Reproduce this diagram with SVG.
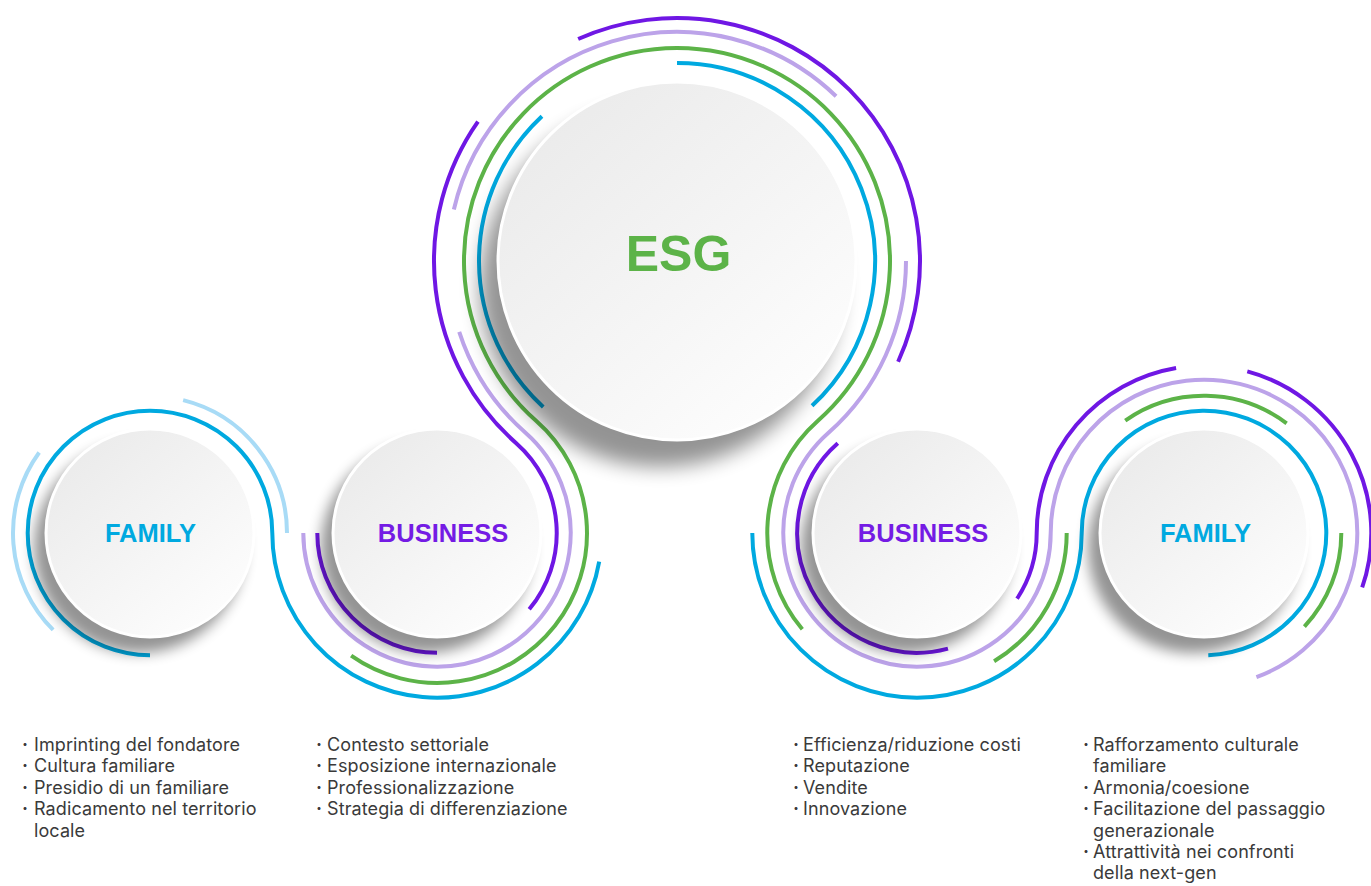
<svg xmlns="http://www.w3.org/2000/svg" width="1371" height="886" viewBox="0 0 1371 886">
<style>
.arc{fill:none;stroke-width:4;stroke-linecap:butt}
.b{stroke:#00a9e0}.lb{stroke:#a8dbf6}.g{stroke:#5cb348}.lp{stroke:#bca3e9}.p{stroke:#6f17e4}
.disc{fill:url(#discGrad);stroke:#ffffff;stroke-width:3}
.shadow{fill:#000;opacity:0.42;filter:url(#blur)}
.shadowBig{fill:#000;opacity:0.42;filter:url(#blurBig)}
.lbl{font-family:"Liberation Sans",Arial,sans-serif;font-weight:bold;text-anchor:middle}
.fam{fill:#00a9e0;font-size:25.5px}
.bus{fill:#741be4;font-size:25.5px}
.esg{fill:#5cb348;font-size:50px}
.list{font-family:Inter,"Noto Sans",sans-serif;font-size:18px;letter-spacing:0.1px;fill:#3a3a3a}
.dot{font-family:Inter,"Noto Sans",sans-serif;font-size:18px;fill:#3a3a3a;text-anchor:middle;font-weight:bold}
</style>
<defs>
<linearGradient id="discGrad" x1="0.15" y1="0.1" x2="0.85" y2="0.9">
<stop offset="0" stop-color="#ebebeb"/>
<stop offset="1" stop-color="#fdfdfd"/>
</linearGradient>
<filter id="blur" x="-30%" y="-30%" width="160%" height="160%"><feGaussianBlur stdDeviation="7"/></filter>
<filter id="blurBig" x="-30%" y="-30%" width="160%" height="160%"><feGaussianBlur stdDeviation="10"/></filter>
</defs>
<rect width="1371" height="886" fill="#ffffff"/>
<g id="connectors">
<path class="arc b" d="M150,655.3 A122.3,122.3 0 1 1 272.3,533 A164.7,164.7 0 0 0 599.2,561.6"/>
<path class="arc lb" d="M53.13,629.87 A137,137 0 0 1 39.16,452.47"/>
<path class="arc lb" d="M183.14,400.07 A137,137 0 0 1 287,533"/>
<path class="arc g" d="M351.14,655.63 A149.7,149.7 0 0 0 536.07,420.72 A213,213 0 1 1 817.93,420.72 A149.7,149.7 0 0 0 802.32,629.22"/>
<path class="arc g" d="M1066.7,533 A149.7,149.7 0 0 1 994.1,661.31"/>
<path class="arc g" d="M1125.25,420.53 A137.3,137.3 0 0 1 1286.63,423.35"/>
<path class="arc g" d="M1341.3,533 A137.3,137.3 0 0 1 1304.41,626.64"/>
<path class="arc lp" d="M303.3,533 A133.7,133.7 0 1 0 525.49,432.72 A229,229 0 0 1 459.21,331.77"/>
<path class="arc lp" d="M453.87,209.49 A229,229 0 0 1 836.08,96.27"/>
<path class="arc lp" d="M906,261 A229,229 0 0 1 828.51,432.72 A133.7,133.7 0 1 0 1050.7,533 A153.3,153.3 0 1 1 1256.43,677.06"/>
<path class="arc p" d="M578.16,39.01 A243,243 0 0 1 898.12,361.77"/>
<path class="arc p" d="M477.95,121.62 A243,243 0 0 0 516.22,443.21 A119.7,119.7 0 0 1 529.23,609.3"/>
<path class="arc p" d="M317.3,533 A119.7,119.7 0 0 0 437,652.7"/>
<path class="arc p" d="M837.78,443.21 A119.7,119.7 0 0 0 947.98,648.62"/>
<path class="arc p" d="M1017.05,598.72 A119.7,119.7 0 0 0 1036.7,533 A167.3,167.3 0 0 1 1176.1,368.04"/>
<path class="arc p" d="M1247.3,371.4 A167.3,167.3 0 0 1 1362.18,587.47"/>
<path class="arc b" d="M677,63 A198,198 0 0 1 812.04,405.81"/>
<path class="arc b" d="M543.23,406.98 A198,198 0 0 1 541.96,116.19"/>
<path class="arc b" d="M752.3,533 A164.7,164.7 0 0 0 1081.7,533 A122.3,122.3 0 1 1 1208.27,655.23"/>
</g>
<g id="node-esg">
<circle class="shadowBig" cx="660" cy="287" r="180"/>
<circle class="disc" cx="677" cy="261" r="179"/>
<text class="lbl esg" x="678.5" y="270.5">ESG</text>
</g>
<g id="node-family-left">
<circle class="shadow" cx="139" cy="548" r="105"/>
<circle class="disc" cx="150" cy="533" r="104"/>
<text class="lbl fam" x="150.5" y="541.5">FAMILY</text>
</g>
<g id="node-business-left">
<circle class="shadow" cx="426" cy="548" r="105"/>
<circle class="disc" cx="437" cy="533" r="104"/>
<text class="lbl bus" x="443" y="541.5">BUSINESS</text>
</g>
<g id="node-business-right">
<circle class="shadow" cx="906" cy="548" r="105"/>
<circle class="disc" cx="917" cy="533" r="104"/>
<text class="lbl bus" x="923" y="541.5">BUSINESS</text>
</g>
<g id="node-family-right">
<circle class="shadow" cx="1193" cy="548" r="105"/>
<circle class="disc" cx="1204" cy="533" r="104"/>
<text class="lbl fam" x="1205.5" y="541.5">FAMILY</text>
</g>
<g id="list-family-left">
<text class="dot" x="25" y="751">·</text><text class="list" x="34" y="751">Imprinting del fondatore</text>
<text class="dot" x="25" y="772.4">·</text><text class="list" x="34" y="772.4">Cultura familiare</text>
<text class="dot" x="25" y="793.8">·</text><text class="list" x="34" y="793.8">Presidio di un familiare</text>
<text class="dot" x="25" y="815.2">·</text><text class="list" x="34" y="815.2">Radicamento nel territorio</text>
<text class="list" x="34" y="836.6">locale</text>
</g>
<g id="list-business-left">
<text class="dot" x="319" y="751">·</text><text class="list" x="327" y="751">Contesto settoriale</text>
<text class="dot" x="319" y="772.4">·</text><text class="list" x="327" y="772.4">Esposizione internazionale</text>
<text class="dot" x="319" y="793.8">·</text><text class="list" x="327" y="793.8">Professionalizzazione</text>
<text class="dot" x="319" y="815.2">·</text><text class="list" x="327" y="815.2">Strategia di differenziazione</text>
</g>
<g id="list-business-right">
<text class="dot" x="796" y="751">·</text><text class="list" x="803" y="751">Efficienza/riduzione costi</text>
<text class="dot" x="796" y="772.4">·</text><text class="list" x="803" y="772.4">Reputazione</text>
<text class="dot" x="796" y="793.8">·</text><text class="list" x="803" y="793.8">Vendite</text>
<text class="dot" x="796" y="815.2">·</text><text class="list" x="803" y="815.2">Innovazione</text>
</g>
<g id="list-family-right">
<text class="dot" x="1086" y="751">·</text><text class="list" x="1093" y="751">Rafforzamento culturale</text>
<text class="list" x="1093" y="772.4">familiare</text>
<text class="dot" x="1086" y="793.8">·</text><text class="list" x="1093" y="793.8">Armonia/coesione</text>
<text class="dot" x="1086" y="815.2">·</text><text class="list" x="1093" y="815.2">Facilitazione del passaggio</text>
<text class="list" x="1093" y="836.6">generazionale</text>
<text class="dot" x="1086" y="858">·</text><text class="list" x="1093" y="858">Attrattività nei confronti</text>
<text class="list" x="1093" y="879.4">della next-gen</text>
</g>
</svg>
